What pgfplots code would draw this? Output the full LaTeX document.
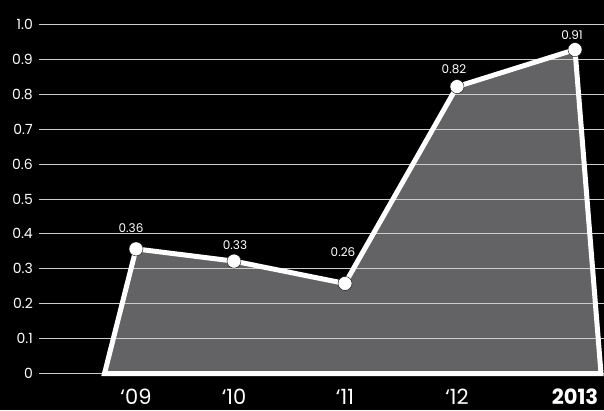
\documentclass[border=0pt]{standalone}
\usepackage{pgfplots}
\pgfplotsset{compat=1.18}
\usepackage{pgfplotstable}
\usepackage{fontspec}
\setmainfont{Poppins}
\definecolor{areagray}{RGB}{99,99,101}
\definecolor{gridc}{RGB}{205,205,205}
\pgfplotstableread{
x y
136 0.357
234 0.322
345 0.258
457 0.822
575 0.928
}\points
\pgfplotstableread{
x y
104.5 0
136 0.357
234 0.322
345 0.258
457 0.822
575 0.928
601 0
}\area
\pgfplotstableread{
x ly lab
131 0.418 0.36
235 0.368 0.33
343 0.347 0.26
454 0.871 0.82
572 0.970 0.91
}\labels
\pgfplotsset{base/.style={
  at={(39pt,36.5pt)}, anchor=south west,
  scale only axis, width=565pt, height=349pt,
  xmin=39, xmax=604, ymin=0, ymax=1,
  clip=false,
  axis line style={draw=none},
  major tick style={draw=none},
}}
\begin{document}
\begin{tikzpicture}
\fill[black] (0pt,0pt) rectangle (604pt,410pt);
\begin{axis}[base, xtick=\empty, ytick=\empty]
\addplot[fill=areagray, draw=none] table {\area} -- cycle;
\end{axis}
\begin{axis}[base,
  ymajorgrids,
  major grid style={gridc, line width=1pt},
  ytick={0,0.1,0.2,0.3,0.4,0.5,0.6,0.7,0.8,0.9,1.0},
  yticklabels={0,0.1,0.2,0.3,0.4,0.5,0.6,0.7,0.8,0.9,1.0},
  yticklabel style={font=\fontsize{14}{14}\selectfont, text=white, inner sep=0pt, xshift=-6pt},
  xtick={136,234,345,457,575},
  xticklabels={`09,`10,`11,`12,\textbf{2013}},
  xticklabel style={font=\fontsize{21}{21}\selectfont, text=white, anchor=base, inner sep=0pt, yshift=-31pt},
]
\addplot[white, line width=5pt, line join=miter] table {\area} -- cycle;
\addplot[only marks, mark=*, mark size=7pt, mark options={draw=none, fill=white}] table {\points};
\addplot[only marks, mark=none, point meta=explicit symbolic,
  nodes near coords,
  every node near coord/.append style={anchor=center, inner sep=0pt, text=white, font=\fontsize{12}{12}\selectfont}]
  table[x=x, y=ly, meta=lab] {\labels};
\end{axis}
\pgfresetboundingbox
\path[use as bounding box] (0pt,0pt) rectangle (604pt,410pt);
\end{tikzpicture}
\end{document}
